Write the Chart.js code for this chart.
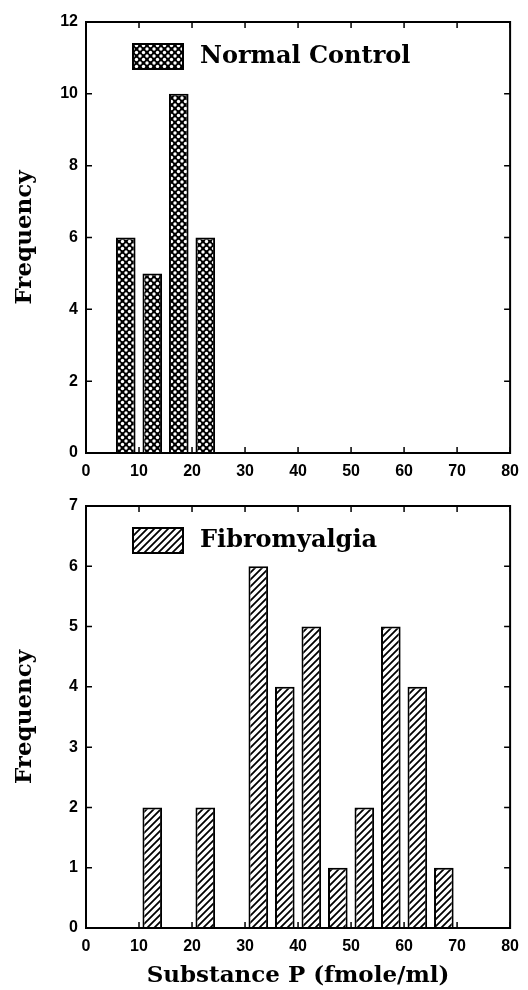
<!DOCTYPE html>
<html>
<head>
<meta charset="utf-8">
<script src="https://cdn.jsdelivr.net/npm/chart.js@4.4.1/dist/chart.umd.min.js"></script>
<style>
  html, body { margin: 0; padding: 0; background: #fff; }
  body { width: 528px; height: 990px; position: relative; overflow: hidden; }
  .panel { position: absolute; left: 0; width: 528px; }
  #topPanel { top: 0; height: 480px; }
  #bottomPanel { top: 480px; height: 510px; }
</style>
</head>
<body>
<div class="panel" id="topPanel"><canvas id="normalChart"></canvas></div>
<div class="panel" id="bottomPanel"><canvas id="fibroChart"></canvas></div>
<script>
// bin centres (fmole/ml) and counts
const normalBins = [7.5, 12.5, 17.5, 22.5];
const normalFreq = [6, 5, 10, 6];

const fibroBins = [12.5, 22.5, 32.5, 37.5, 42.5, 47.5, 52.5, 57.5, 62.5, 67.5];
const fibroFreq = [2, 2, 6, 4, 5, 1, 2, 5, 4, 1];

const xTickValues = [0, 10, 20, 30, 40, 50, 60, 70, 80];
const normalYTicks = [0, 2, 4, 6, 8, 10, 12];
const fibroYTicks = [0, 1, 2, 3, 4, 5, 6, 7];

const tickFont = { family: '"Liberation Sans", Arial, sans-serif', size: 16, weight: 'bold' };
const titleFont = { family: '"DejaVu Serif", serif', size: 23, weight: 'bold' };
const legendFont = 'bold 24px "DejaVu Serif", serif';

function crossHatch() {
  const c = document.createElement('canvas');
  c.width = 7; c.height = 7;
  const g = c.getContext('2d');
  g.fillStyle = '#000';
  g.fillRect(0, 0, 7, 7);
  g.fillStyle = '#fff';
  [[0, 0], [7, 0], [0, 7], [7, 7], [3.5, 3.5]].forEach(([x, y]) => {
    g.beginPath();
    g.arc(x, y, 1.7, 0, Math.PI * 2);
    g.fill();
  });
  return g.createPattern(c, 'repeat');
}

function diagHatch() {
  const c = document.createElement('canvas');
  c.width = 7; c.height = 7;
  const g = c.getContext('2d');
  g.fillStyle = '#fff';
  g.fillRect(0, 0, 7, 7);
  g.strokeStyle = '#000';
  g.lineWidth = 1.8;
  g.beginPath();
  g.moveTo(-1, 8); g.lineTo(8, -1);
  g.moveTo(-1, 1); g.lineTo(1, -1);
  g.moveTo(6, 8); g.lineTo(8, 6);
  g.stroke();
  return g.createPattern(c, 'repeat');
}

// frame, inward ticks on all four sides, and the boxed legend inside the plot
const framePlugin = {
  id: 'frame',
  afterDatasetsDraw(chart) {
    const { ctx, chartArea: a, scales } = chart;
    const len = 6;
    ctx.save();
    ctx.strokeStyle = '#000';
    ctx.lineWidth = 2;
    ctx.strokeRect(a.left, a.top, a.right - a.left, a.bottom - a.top);
    ctx.lineWidth = 1.5;
    ctx.beginPath();
    scales.x.ticks.forEach(t => {
      const px = scales.x.getPixelForValue(t.value);
      ctx.moveTo(px, a.bottom); ctx.lineTo(px, a.bottom - len);
      ctx.moveTo(px, a.top); ctx.lineTo(px, a.top + len);
    });
    scales.y.ticks.forEach(t => {
      const py = scales.y.getPixelForValue(t.value);
      ctx.moveTo(a.left, py); ctx.lineTo(a.left + len, py);
      ctx.moveTo(a.right, py); ctx.lineTo(a.right - len, py);
    });
    ctx.stroke();

    const ds = chart.data.datasets[0];
    const bx = a.left + 47, by = a.top + 22;
    ctx.fillStyle = ds.backgroundColor;
    ctx.fillRect(bx, by, 50, 25);
    ctx.lineWidth = 2;
    ctx.strokeRect(bx, by, 50, 25);
    ctx.fillStyle = '#000';
    ctx.font = legendFont;
    ctx.textBaseline = 'middle';
    ctx.fillText(ds.label, bx + 67, by + 13);
    ctx.restore();
  }
};

function makeChart(id, label, bins, freq, fill, yTicks, opts) {
  return new Chart(document.getElementById(id), {
    type: 'bar',
    data: {
      datasets: [{
        label: label,
        data: bins.map((b, i) => ({ x: b, y: freq[i] })),
        backgroundColor: fill,
        borderColor: '#000',
        borderWidth: 2,
        barPercentage: 0.74,
        categoryPercentage: 1
      }]
    },
    options: {
      responsive: true,
      maintainAspectRatio: false,
      animation: false,
      layout: { padding: { top: opts.padTop, right: 15, left: 0, bottom: 0 } },
      plugins: { legend: { display: false }, tooltip: { enabled: false } },
      scales: {
        x: {
          type: 'linear',
          offset: false,
          min: 0,
          max: 80,
          afterBuildTicks: s => { s.ticks = xTickValues.map(v => ({ value: v })); },
          afterFit: s => { s.height = opts.xHeight; },
          grid: { display: false, drawTicks: false, offset: false },
          border: { display: false },
          ticks: { color: '#000', font: tickFont, padding: 9, maxRotation: 0 },
          title: {
            display: !!opts.xTitle,
            text: opts.xTitle || '',
            color: '#000',
            font: titleFont,
            padding: { top: 0, bottom: 0 }
          }
        },
        y: {
          min: 0,
          max: yTicks[yTicks.length - 1],
          afterBuildTicks: s => { s.ticks = yTicks.map(v => ({ value: v })); },
          afterFit: s => { s.width = 86; },
          grid: { display: false, drawTicks: false },
          border: { display: false },
          ticks: { color: '#000', font: tickFont, padding: 8 },
          title: {
            display: true,
            text: 'Frequency',
            color: '#000',
            font: titleFont,
            padding: { top: 11, bottom: 0 }
          }
        }
      }
    },
    plugins: [framePlugin]
  });
}

makeChart('normalChart', 'Normal Control', normalBins, normalFreq, crossHatch(), normalYTicks,
  { padTop: 22, xHeight: 27 });
makeChart('fibroChart', 'Fibromyalgia', fibroBins, fibroFreq, diagHatch(), fibroYTicks,
  { padTop: 26, xHeight: 62, xTitle: 'Substance P (fmole/ml)' });
</script>
</body>
</html>
